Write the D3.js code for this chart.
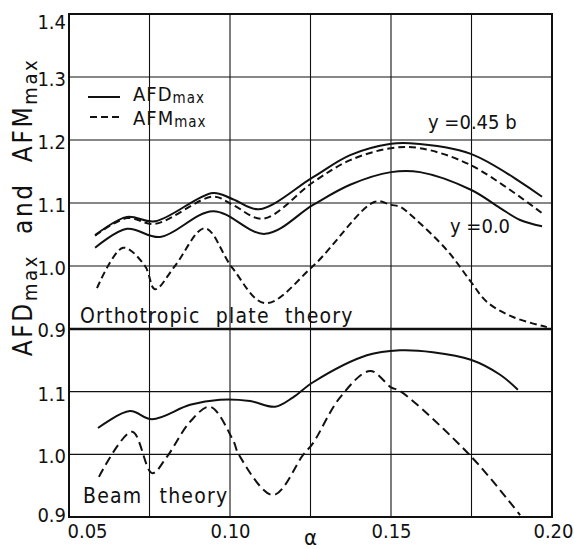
<!DOCTYPE html>
<html>
<head>
<meta charset="utf-8">
<script src="https://cdn.jsdelivr.net/npm/d3@7"></script>
<style>
  body { margin: 0; background: #fff; }
  svg text { font-family: "Liberation Sans Narrow", "DejaVu Sans Condensed", "Liberation Sans", sans-serif; fill: #111; }
</style>
</head>
<body>
<svg id="chart" width="574" height="549"></svg>
<script>
// ---- data (alpha, value) ----
// orthotropic plate theory
const afdTop45 = [[0.0581,1.049],[0.0680,1.078],[0.0767,1.071],[0.0947,1.116],[0.1009,1.106],[0.1090,1.090],
  [0.1258,1.141],[0.1373,1.176],[0.1500,1.194],[0.1559,1.195],[0.1748,1.178],[0.1969,1.110]];
const afmTop45 = [[0.0581,1.048],[0.0680,1.076],[0.0767,1.067],[0.0947,1.110],[0.1009,1.097],[0.1102,1.075],
  [0.1258,1.133],[0.1373,1.168],[0.1500,1.187],[0.1590,1.187],[0.1748,1.160],[0.1969,1.084]];
const afdTop00 = [[0.0581,1.029],[0.0680,1.059],[0.0783,1.046],[0.0947,1.087],[0.1109,1.051],[0.1258,1.097],
  [0.1373,1.129],[0.1500,1.149],[0.1590,1.149],[0.1748,1.121],[0.1839,1.092],[0.1901,1.073],[0.1969,1.063]];
const afmTop00 = [[0.0587,0.965],[0.0668,1.029],[0.0736,1.000],[0.0767,0.963],[0.0829,1.000],[0.0922,1.060],
  [0.1006,0.998],[0.1109,0.941],[0.1258,1.000],[0.1450,1.102],[0.1500,1.097],[0.1528,1.094],[0.1568,1.078],
  [0.1674,1.025],[0.1748,0.975],[0.1798,0.943],[0.1879,0.919],[0.1984,0.903]];
// beam theory
const afdBeam = [[0.0590,1.042],[0.0689,1.069],[0.0758,1.056],[0.0876,1.079],[0.0969,1.087],[0.1062,1.085],
  [0.1140,1.076],[0.1196,1.091],[0.1258,1.115],[0.1425,1.158],[0.1528,1.166],[0.1630,1.163],[0.1748,1.151],
  [0.1839,1.127],[0.1894,1.103]];
const afmBeam = [[0.0593,0.964],[0.0696,1.036],[0.0758,0.970],[0.0804,0.996],[0.0876,1.052],[0.0938,1.076],
  [0.1009,1.023],[0.1028,0.999],[0.1134,0.935],[0.1227,0.999],[0.1258,1.018],[0.1342,1.091],[0.1435,1.133],
  [0.1500,1.107],[0.1528,1.101],[0.1748,0.997],[0.1901,0.903]];

const xTicks = [0.05, 0.10, 0.15, 0.20];
const xGrid = [0.05, 0.075, 0.10, 0.125, 0.15, 0.175, 0.20];
const yTopTicks = [0.9, 1.0, 1.1, 1.2, 1.3, 1.4];
const yBotTicks = [0.9, 1.0, 1.1];

const svg = d3.select("#chart");
const x = d3.scaleLinear().domain([0.05, 0.20]).range([69, 552]);
const yTop = d3.scaleLinear().domain([0.9, 1.4]).range([329, 14]);
const yBot = d3.scaleLinear().domain([0.9, 1.2]).range([517, 329]);

const ink = "#111";

// grid
const grid = svg.append("g").attr("stroke", ink).attr("stroke-width", 1.1);
grid.selectAll(".vg").data(xGrid).join("line")
  .attr("x1", d => x(d)).attr("x2", d => x(d)).attr("y1", 14).attr("y2", 517);
grid.selectAll(".hgt").data([1.0, 1.1, 1.2, 1.3]).join("line").attr("class", "hgt")
  .attr("x1", 69).attr("x2", 552).attr("y1", d => yTop(d)).attr("y2", d => yTop(d));
grid.selectAll(".hgb").data([1.0, 1.1]).join("line").attr("class", "hgb")
  .attr("x1", 69).attr("x2", 552).attr("y1", d => yBot(d)).attr("y2", d => yBot(d));

// frame + divider
svg.append("rect").attr("x", 69).attr("y", 14).attr("width", 483).attr("height", 503)
  .attr("fill", "none").attr("stroke", ink).attr("stroke-width", 2);
svg.append("line").attr("x1", 69).attr("x2", 552).attr("y1", 329).attr("y2", 329)
  .attr("stroke", ink).attr("stroke-width", 2.4);

// axes labels
const fs = 20;
const yAxTop = svg.append("g").attr("transform", "translate(66,0)")
  .call(d3.axisLeft(yTop).tickValues(yTopTicks).tickSize(0).tickPadding(0).tickFormat(d3.format(".1f")));
const yAxBot = svg.append("g").attr("transform", "translate(66,0)")
  .call(d3.axisLeft(yBot).tickValues(yBotTicks).tickSize(0).tickPadding(0).tickFormat(d3.format(".1f")));
[yAxTop, yAxBot].forEach(g => {
  g.select(".domain").remove();
  g.selectAll("text").attr("font-size", fs).attr("fill", ink).attr("dy", "0.42em");
});
yAxTop.selectAll(".tick").filter(d => d === 1.4).select("text").attr("dy", "0.72em");
yAxBot.selectAll(".tick").filter(d => d === 0.9).select("text").attr("dy", "0.2em");
yAxTop.selectAll(".tick").filter(d => d === 0.9).select("text").attr("dy", "0.36em");

const xAx = svg.append("g").attr("transform", "translate(0,524)")
  .call(d3.axisBottom(x).tickValues(xTicks).tickSize(0).tickPadding(0).tickFormat(d3.format(".2f")));
xAx.select(".domain").remove();
xAx.selectAll("text").attr("font-size", fs).attr("fill", ink).attr("dy", "0.7em");
xAx.selectAll(".tick").filter(d => d === 0.05).select("text").attr("text-anchor", "start").attr("x", -2);
xAx.selectAll(".tick").filter(d => d === 0.20).select("text").attr("text-anchor", "end").attr("x", 21);

svg.append("text").attr("x", x(0.125)).attr("y", 545).attr("text-anchor", "middle")
  .attr("font-size", 22).text("α");

// y title
const yt = svg.append("text").attr("transform", "translate(32,207) rotate(-90)")
  .attr("text-anchor", "middle").attr("font-size", 26).attr("letter-spacing", 2.6)
  .attr("xml:space", "preserve");
yt.append("tspan").text("AFD");
yt.append("tspan").attr("font-size", 20).attr("dy", 5).text("max");
yt.append("tspan").attr("dy", -5).text("  and  ");
yt.append("tspan").text("AFM");
yt.append("tspan").attr("font-size", 20).attr("dy", 5).text("max");

// curves
const lineTop = d3.line().x(d => x(d[0])).y(d => yTop(d[1])).curve(d3.curveCatmullRom.alpha(0.5));
const lineBot = d3.line().x(d => x(d[0])).y(d => yBot(d[1])).curve(d3.curveCatmullRom.alpha(0.5));
const curves = svg.append("g").attr("fill", "none").attr("stroke", ink).attr("stroke-width", 2);
curves.append("path").attr("d", lineTop(afdTop45));
curves.append("path").attr("d", lineTop(afmTop45)).attr("stroke-dasharray", "7,4");
curves.append("path").attr("d", lineTop(afdTop00));
curves.append("path").attr("d", lineTop(afmTop00)).attr("stroke-dasharray", "7,4");
curves.append("path").attr("d", lineBot(afdBeam));
curves.append("path").attr("d", lineBot(afmBeam)).attr("stroke-dasharray", "9,5");

// legend
const lg = svg.append("g");
lg.append("line").attr("x1", 88).attr("x2", 120).attr("y1", 97).attr("y2", 97)
  .attr("stroke", ink).attr("stroke-width", 2);
lg.append("line").attr("x1", 90).attr("x2", 122).attr("y1", 117).attr("y2", 117)
  .attr("stroke", ink).attr("stroke-width", 2).attr("stroke-dasharray", "7,4");
[["AFD", 101], ["AFM", 125]].forEach(([t, yy]) => {
  const tx = lg.append("text").attr("x", 133).attr("y", yy).attr("font-size", 20).attr("letter-spacing", 1);
  tx.append("tspan").text(t);
  tx.append("tspan").attr("font-size", 15).attr("dy", 2).text("max");
});

// annotations
svg.append("text").attr("x", 428).attr("y", 129).attr("font-size", 20).attr("xml:space", "preserve").text("y =0.45 b");
svg.append("text").attr("x", 450).attr("y", 233).attr("font-size", 20).attr("xml:space", "preserve").text("y =0.0");
svg.append("text").attr("x", 80).attr("y", 323).attr("font-size", 21).attr("letter-spacing", 1.2)
  .attr("word-spacing", 8).text("Orthotropic plate theory");
svg.append("text").attr("x", 83).attr("y", 503).attr("font-size", 21).attr("letter-spacing", 1.2)
  .attr("word-spacing", 10).text("Beam theory");
</script>
</body>
</html>
